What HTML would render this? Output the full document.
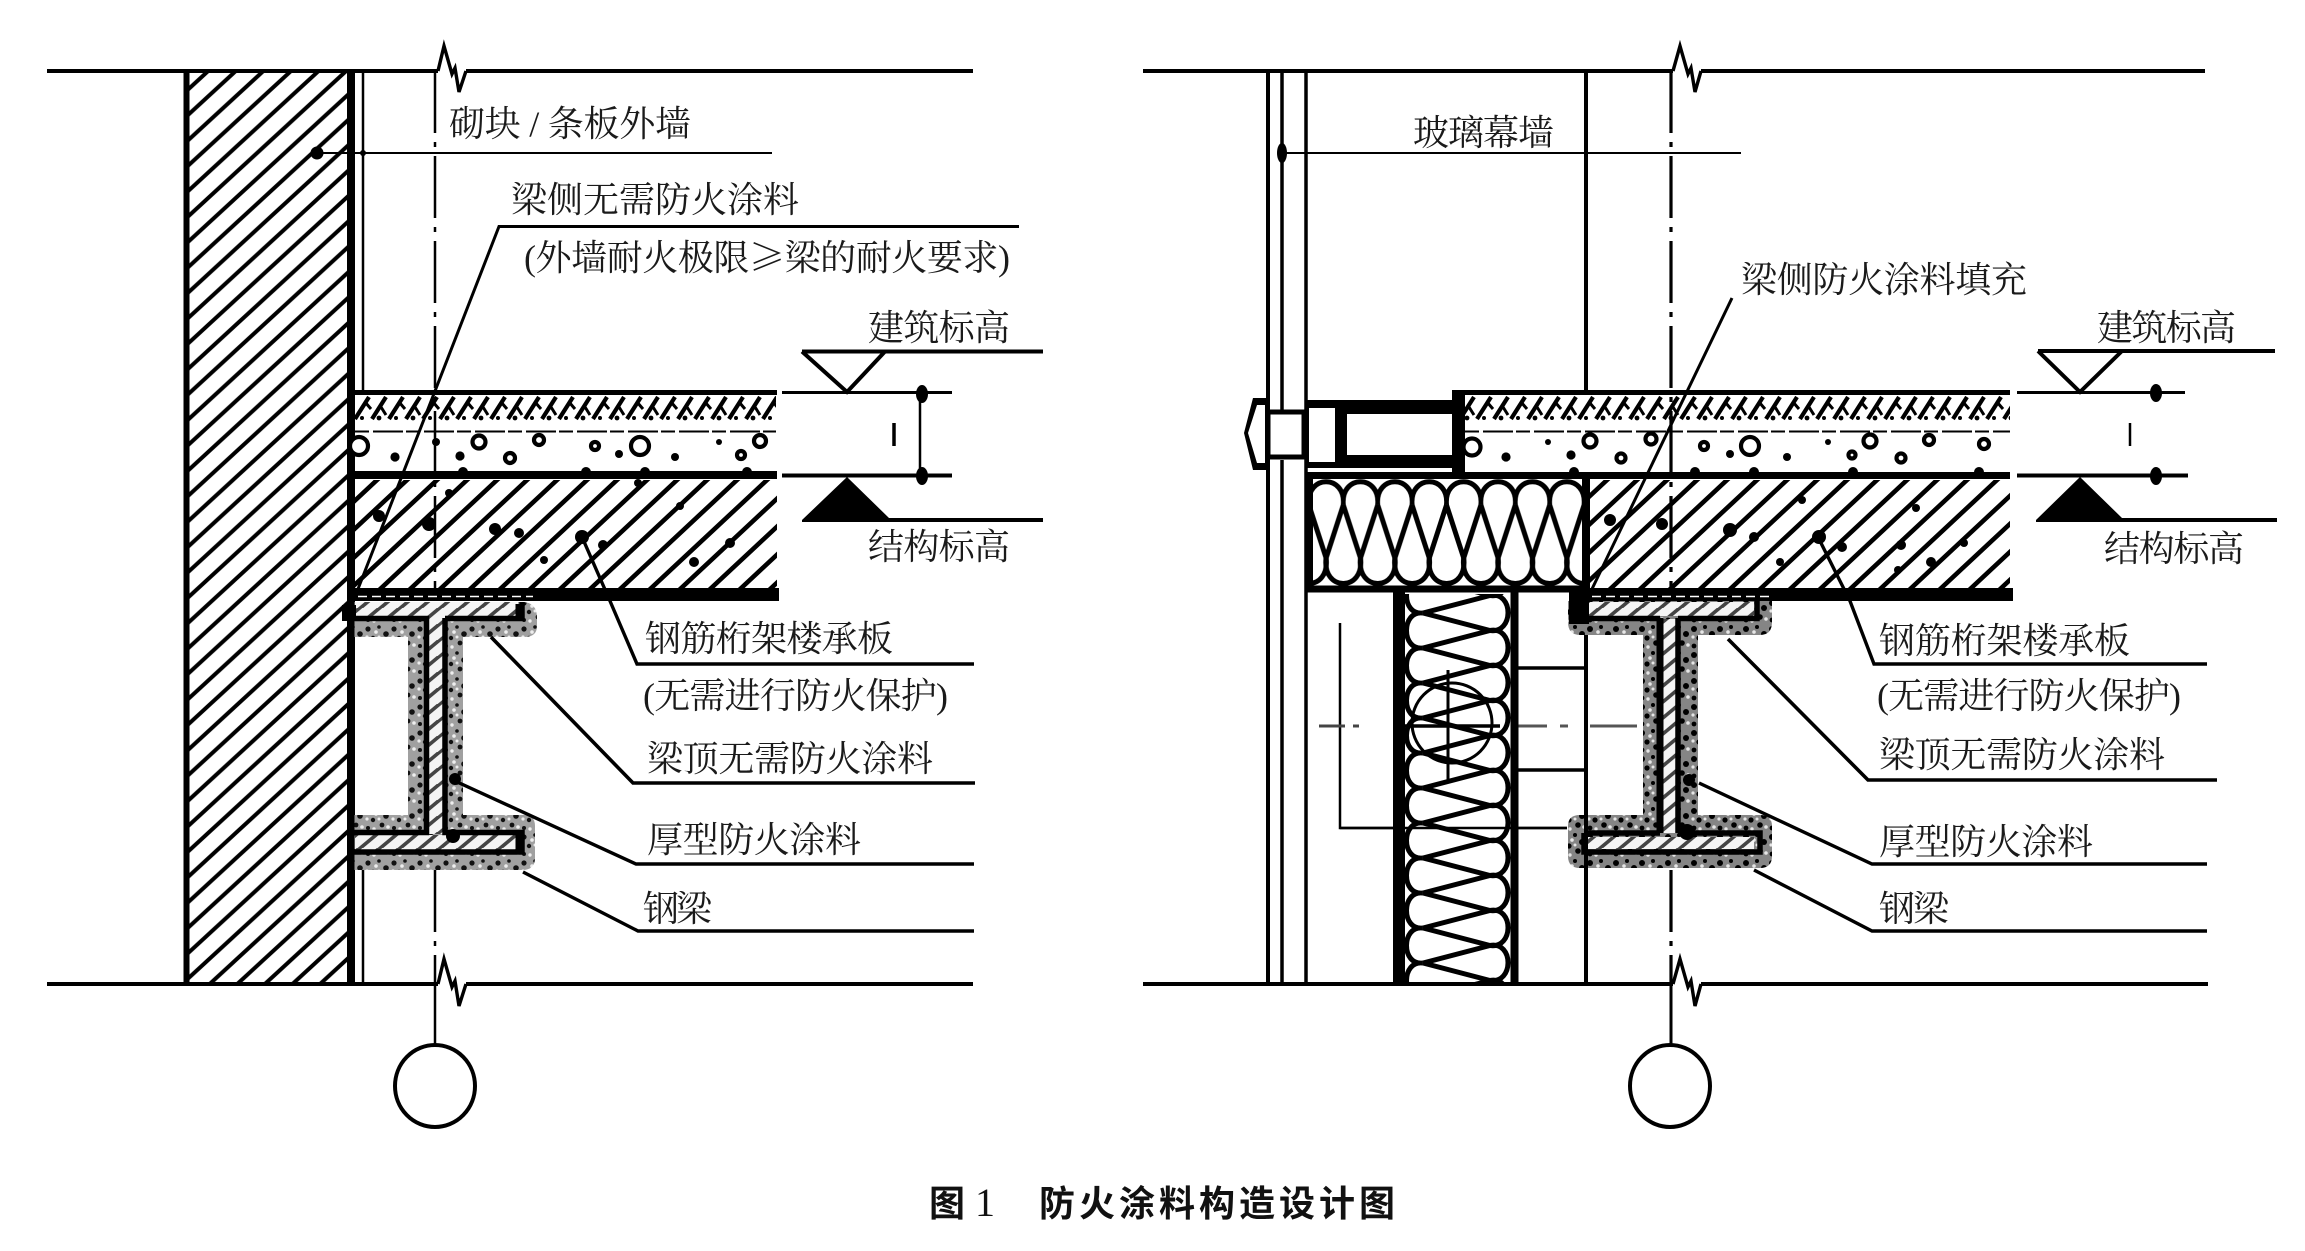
<!DOCTYPE html>
<html><head><meta charset="utf-8"><style>
html,body{margin:0;padding:0;background:#fff;width:2305px;height:1251px;overflow:hidden}
svg{display:block}
.t{font-family:"Liberation Serif","Noto Serif CJK SC",serif;font-size:36px;fill:#1a1a1a}
.c{font-family:"Liberation Sans","Noto Sans CJK SC",sans-serif;font-size:36px;font-weight:700;fill:#111}
</style></head><body>
<svg width="2305" height="1251" viewBox="0 0 2305 1251" xmlns="http://www.w3.org/2000/svg">
<defs>
<pattern id="wall" patternUnits="userSpaceOnUse" x="178.4" y="73" width="27.6" height="25.4">
<g stroke="#000" stroke-width="4"><line x1="-5" y1="30" x2="32.6" y2="-4.6"/><line x1="-32.6" y1="30" x2="5" y2="-4.6"/><line x1="22.6" y1="30" x2="60.2" y2="-4.6"/></g></pattern>
<pattern id="slab" patternUnits="userSpaceOnUse" x="437" y="480" width="30" height="28">
<g stroke="#000" stroke-width="4.6"><line x1="-5" y1="32.67" x2="35" y2="-4.67"/><line x1="-35" y1="32.67" x2="5" y2="-4.67"/><line x1="25" y1="32.67" x2="65" y2="-4.67"/></g></pattern>
<pattern id="top" patternUnits="userSpaceOnUse" x="356" y="395" width="34" height="26">
<rect width="34" height="26" fill="#fff"/>
<g stroke="#000" fill="none" stroke-width="4.2">
<path d="M-1 24L13 2M16 24L30 2M33 24L47 2M-18 24L-4 2"/>
</g>
<g stroke="#000" fill="none" stroke-width="3">
<path d="M9 7L15 14M25 12L30 20"/>
</g>
<circle cx="6" cy="23" r="2"/><circle cx="23" cy="23" r="2.4"/></pattern>
<pattern id="coat" patternUnits="userSpaceOnUse" width="26" height="26">
<rect width="26" height="26" fill="#a0a0a0"/>
<g fill="#111"><circle cx="4" cy="5" r="2.6"/><circle cx="15" cy="3" r="1.8"/><circle cx="22" cy="10" r="2.8"/><circle cx="9" cy="14" r="2.2"/><circle cx="18" cy="19" r="2.4"/><circle cx="4" cy="22" r="2"/></g>
<g fill="#eee"><circle cx="12" cy="8" r="1.8"/><circle cx="3" cy="13" r="1.6"/><circle cx="15" cy="13" r="1.5"/><circle cx="24" cy="21" r="1.8"/><circle cx="10" cy="23" r="1.7"/></g></pattern>
<pattern id="coat2" patternUnits="userSpaceOnUse" width="26" height="26">
<rect width="26" height="26" fill="#858585"/>
<g fill="#000"><circle cx="4" cy="5" r="3"/><circle cx="15" cy="3" r="2"/><circle cx="22" cy="10" r="3"/><circle cx="9" cy="14" r="2.6"/><circle cx="18" cy="19" r="2.8"/><circle cx="4" cy="22" r="2.4"/></g>
<g fill="#e6e6e6"><circle cx="12" cy="8" r="1.8"/><circle cx="3" cy="13" r="1.6"/><circle cx="15" cy="13" r="1.5"/><circle cx="24" cy="21" r="1.8"/><circle cx="10" cy="23" r="1.7"/></g></pattern>
<pattern id="steel" patternUnits="userSpaceOnUse" width="20" height="16">
<rect width="20" height="16" fill="#f4f4f4"/>
<g stroke="#444" stroke-width="3.6"><line x1="-2" y1="18" x2="22" y2="-2"/><line x1="-22" y1="18" x2="2" y2="-2"/><line x1="18" y1="18" x2="42" y2="-2"/></g></pattern>
<g id="insT" fill="none" stroke="#000" stroke-width="5">
<path d="M0 505L17.2 558M34.4 505L17.2 558"/>
<path d="M0 505C-3 474 37.4 474 34.4 505"/>
<path d="M17.2 558C13 592 55.8 592 51.6 558"/>
<path d="M-17.2 558C-21 592 21.4 592 17.2 558"/>
</g>
<pattern id="ins1" patternUnits="userSpaceOnUse" x="1308.9" y="0" width="34.4" height="1251"><use href="#insT"/></pattern>
<g id="insV" fill="none" stroke="#000" stroke-width="5">
<path d="M1423 0L1490 17.5M1423 35L1490 17.5"/>
<path d="M1423 0C1401 -3 1401 38 1423 35"/>
<path d="M1490 17.5C1514 13 1514 56 1490 52.5"/>
<path d="M1490 -17.5C1514 -22 1514 21 1490 17.5"/>
</g>
<pattern id="ins2" patternUnits="userSpaceOnUse" x="0" y="613" width="2305" height="35"><use href="#insV"/></pattern>
</defs>
<rect width="2305" height="1251" fill="#fff"/>

<!-- ============ LEFT ============ -->
<rect x="186" y="71" width="165" height="913" fill="url(#wall)"/>
<g stroke="#000" fill="none">
<path d="M186.5 71V984" stroke-width="6"/>
<path d="M351 71V984" stroke-width="8"/>
<path d="M363 71V392M363 870V984" stroke-width="2.5"/>
</g>
<!-- slab -->
<rect x="355" y="395" width="421" height="26" fill="url(#top)"/>
<rect x="355" y="480" width="422" height="108" fill="url(#slab)"/>
<g stroke="#000" fill="none">
<path d="M355 392.5H777" stroke-width="5"/>
<path d="M782 392.5H952" stroke-width="3"/>
<path d="M355 431.5H776" stroke-width="2" stroke-dasharray="14 4 30 3"/>
<path d="M355 475H777" stroke-width="8"/>
<path d="M782 475.5H952" stroke-width="4"/>
</g>
<g fill="#fff" stroke="#000" stroke-width="4.2">
<circle cx="359" cy="446" r="9"/><circle cx="479" cy="442" r="6.5"/><circle cx="539" cy="440" r="5"/><circle cx="510" cy="458" r="5"/><circle cx="595" cy="446" r="4"/><circle cx="640" cy="446" r="9"/><circle cx="741" cy="455" r="4"/><circle cx="760" cy="441" r="6"/>
</g>
<g fill="#000">
<circle cx="395" cy="457" r="4.6"/><circle cx="460" cy="456" r="4.6"/><circle cx="436" cy="442" r="4"/><circle cx="619" cy="454" r="4"/><circle cx="675" cy="457" r="4"/><circle cx="719" cy="442" r="3"/>
<circle cx="463" cy="472" r="5"/><circle cx="586" cy="472" r="5"/><circle cx="645" cy="472" r="5"/><circle cx="747" cy="472" r="5"/>
<circle cx="379" cy="516" r="6"/><circle cx="429" cy="524" r="7"/><circle cx="495" cy="529" r="6"/><circle cx="582" cy="537" r="7"/><circle cx="519" cy="533" r="5"/><circle cx="544" cy="560" r="4"/><circle cx="603" cy="545" r="5"/><circle cx="694" cy="562" r="5"/><circle cx="730" cy="543" r="5"/><circle cx="680" cy="506" r="4"/><circle cx="449" cy="493" r="4"/><circle cx="638" cy="483" r="4"/>
</g>
<!-- centre line -->
<path d="M435 71V600M435 870V984" stroke="#000" stroke-width="2.5" stroke-dasharray="62 9 5 9" fill="none"/>
<path d="M435 984V1044" stroke="#000" stroke-width="2.5"/>
<ellipse cx="435" cy="1086" rx="40" ry="41" fill="#fff" stroke="#000" stroke-width="4"/>
<!-- bar -->
<rect x="355" y="588" width="424" height="13" fill="#000"/>
<path d="M358 596.5H533" stroke="#fff" stroke-width="1.6" stroke-dasharray="9 5"/>
<!-- beam left -->
<path d="M353 602H522Q537 602 537 618V626Q537 637 524 637H463V815H524Q535 815 535 826V858Q535 870 522 870H353V815H408V637H353Z" fill="url(#coat)"/>
<rect x="355" y="602" width="163" height="16" fill="url(#steel)"/>
<rect x="355" y="835" width="163" height="16" fill="url(#steel)"/>
<rect x="428" y="618" width="15" height="216" fill="url(#steel)"/>
<g stroke="#000" fill="none" stroke-width="5.5">
<path d="M353 618.5H426.5V832.5H353"/>
<path d="M445 618.5H522V602"/>
<path d="M520 604V620" stroke-width="9"/>
<path d="M445 618V832.5H522V852H353"/>
<path d="M520 832V852" stroke-width="9"/>
</g>
<circle cx="455" cy="779" r="6" fill="#000"/><circle cx="453" cy="836" r="7" fill="#000"/>
<rect x="342" y="605" width="14" height="16" fill="#000"/>
<path d="M351 585V880" stroke="#000" stroke-width="7"/>
<!-- left leaders -->
<g stroke="#000" fill="none">
<path d="M772 153H317" stroke-width="2"/>
<path d="M1019 226.5H499L358 589" stroke-width="3"/>
<path d="M582 537L610 601L637 664H974" stroke-width="3.4"/>
<path d="M491 637L633 783H975" stroke-width="3.6"/>
<path d="M455 781L636 864H974" stroke-width="3.4"/>
<path d="M523 872L638 931H974" stroke-width="3.4"/>
<path d="M802 351.5H1043M802 351.5L847 392L885 351.5" stroke-width="4"/>
<path d="M920 392V475" stroke-width="2.5"/>
<path d="M894 423V446" stroke-width="3.5"/>
</g>
<circle cx="317" cy="153" r="6.5"/><circle cx="363" cy="153" r="3"/>
<ellipse cx="922" cy="394" rx="6" ry="9"/><ellipse cx="922" cy="476" rx="6" ry="9"/>
<path d="M802 520L847 477L889 518H1043V522H802Z"/>
<!-- top / bottom lines -->
<g stroke="#000" fill="none" stroke-width="4">
<path d="M47 71H438M466 71H973"/>
<path d="M47 984H438M466 984H973"/>
<path d="M438 71L444 46L452 74L455 68L459 92L466 71" stroke-width="3.4"/>
<path d="M438 984L444 959L452 987L455 981L459 1006L466 984" stroke-width="3.4"/>
</g>
<!-- left text -->
<text class="t" x="449" y="136" textLength="242">砌块 / 条板外墙</text>
<text class="t" x="511" y="212" textLength="288">梁侧无需防火涂料</text>
<text class="t" x="524" y="270" textLength="486">(外墙耐火极限<tspan font-family="Noto Serif CJK SC">≥</tspan>梁的耐火要求)</text>
<text class="t" x="868" y="340" textLength="142">建筑标高</text>
<text class="t" x="868" y="559" textLength="142">结构标高</text>
<text class="t" x="645" y="651" textLength="248">钢筋桁架楼承板</text>
<text class="t" x="643" y="708" textLength="305">(无需进行防火保护)</text>
<text class="t" x="647" y="771" textLength="286">梁顶无需防火涂料</text>
<text class="t" x="647" y="852" textLength="214">厚型防火涂料</text>
<text class="t" x="643" y="921" textLength="69">钢梁</text>

<!-- ============ RIGHT ============ -->
<g stroke="#000" fill="none">
<path d="M1268 71V984" stroke-width="4"/>
<path d="M1282 71V410M1282 460V984" stroke-width="3.5"/>
<path d="M1306 71V984" stroke-width="3.5"/>
<path d="M1586 71V392M1586 590V984" stroke-width="4"/>
</g>
<!-- dim lines -->
<g stroke="#000" fill="none">
<path d="M1340 623V828H1567" stroke-width="2.5"/>
<path d="M1319 726H1345M1353 726H1359" stroke="#444" stroke-width="3"/>
<path d="M1518 726H1547M1560 726H1568M1590 726H1637" stroke="#555" stroke-width="3"/>
</g>
<!-- slab -->
<rect x="1465" y="395" width="545" height="26" fill="url(#top)"/>
<rect x="1588" y="480" width="422" height="108" fill="url(#slab)"/>
<!-- insulation upper -->
<rect x="1310" y="478" width="276" height="110" fill="#fff"/>
<rect x="1310" y="478" width="276" height="110" fill="url(#ins1)"/>
<g stroke="#000" fill="none">
<path d="M1309.5 476V592" stroke-width="7"/>
<path d="M1586 476V600" stroke-width="8"/>
<path d="M1306 589H1590" stroke-width="7"/>
<path d="M1459 392.5H2010" stroke-width="5"/>
<path d="M2017 392.5H2185" stroke-width="3"/>
<path d="M1465 431.5H2010" stroke-width="2" stroke-dasharray="14 4 30 3"/>
<path d="M1306 475.5H2010" stroke-width="7"/>
<path d="M2017 475.5H2188" stroke-width="4"/>
</g>
<g fill="#fff" stroke="#000" stroke-width="4.2">
<circle cx="1472" cy="447" r="8.5"/><circle cx="1590" cy="441" r="6.5"/><circle cx="1651" cy="439" r="5.5"/><circle cx="1704" cy="446" r="4"/><circle cx="1750" cy="446" r="9"/><circle cx="1870" cy="441" r="6.5"/><circle cx="1929" cy="440" r="5"/><circle cx="1984" cy="444" r="5"/><circle cx="1621" cy="458" r="4.5"/><circle cx="1901" cy="458" r="4.5"/><circle cx="1852" cy="455" r="3.5"/>
</g>
<g fill="#000">
<circle cx="1506" cy="457" r="4.6"/><circle cx="1571" cy="455" r="4.6"/><circle cx="1787" cy="457" r="4"/><circle cx="1828" cy="442" r="3"/><circle cx="1730" cy="454" r="4"/><circle cx="1548" cy="442" r="3"/>
<circle cx="1574" cy="472" r="5"/><circle cx="1695" cy="472" r="5"/><circle cx="1754" cy="472" r="5"/><circle cx="1853" cy="472" r="5"/><circle cx="1979" cy="472" r="5"/>
<circle cx="1610" cy="520" r="6"/><circle cx="1662" cy="524" r="6"/><circle cx="1730" cy="530" r="7"/><circle cx="1754" cy="537" r="5"/><circle cx="1819" cy="537" r="7"/><circle cx="1842" cy="547" r="5"/><circle cx="1780" cy="562" r="4"/><circle cx="1901" cy="545" r="5"/><circle cx="1898" cy="570" r="4"/><circle cx="1802" cy="500" r="4"/><circle cx="1931" cy="562" r="5"/><circle cx="1964" cy="543" r="4"/><circle cx="1916" cy="508" r="4"/>
</g>
<!-- box -->
<rect x="1307" y="400" width="158" height="68" fill="#000"/>
<rect x="1309" y="408" width="26" height="54" fill="#fff"/>
<rect x="1347" y="414" width="105" height="41" fill="#fff"/>
<rect x="1452" y="390" width="13" height="85" fill="#000"/>
<!-- bolt -->
<path d="M1268 412H1304V457H1268Z" fill="#fff" stroke="#000" stroke-width="5"/>
<path d="M1253 398H1269V470H1253L1244 433Z M1257 405L1248 433L1257 463H1265V405Z" fill="#000" fill-rule="evenodd"/>
<!-- vertical insulation -->
<rect x="1405" y="594" width="106" height="390" fill="#fff"/>
<rect x="1405" y="594" width="106" height="390" fill="url(#ins2)"/>
<g stroke="#000" fill="none">
<path d="M1399 590V984" stroke-width="12"/>
<path d="M1514.5 590V984" stroke-width="8"/>
<path d="M1518 668H1586M1518 770H1586" stroke-width="3.4"/>
<path d="M1448 670V782" stroke-width="3"/>
<circle cx="1452" cy="723" r="40" stroke-width="3"/>
<path d="M1393 726H1500" stroke-width="3.5"/>
<path d="M1340 828H1567" stroke-width="2.5"/>
</g>
<!-- centre line -->
<path d="M1671 71V600M1671 870V984" stroke="#000" stroke-width="3.2" stroke-dasharray="62 9 5 9" fill="none"/>
<path d="M1671 984V1044" stroke="#000" stroke-width="3"/>
<ellipse cx="1670" cy="1086" rx="40" ry="41" fill="#fff" stroke="#000" stroke-width="4"/>
<!-- bar -->
<rect x="1588" y="588" width="425" height="13" fill="#000"/>
<path d="M1592 596.5H1772" stroke="#fff" stroke-width="1.6" stroke-dasharray="9 5"/>
<!-- beam right -->
<path d="M1580 601H1772V622Q1772 635 1760 635H1698V815H1760Q1772 815 1772 826V856Q1772 868 1760 868H1580Q1568 868 1568 856V826Q1568 815 1580 815H1643V635H1580Q1568 635 1568 622V601Z" fill="url(#coat2)"/>
<rect x="1588" y="602" width="166" height="14" fill="url(#steel)"/>
<rect x="1588" y="837" width="166" height="12" fill="url(#steel)"/>
<rect x="1663" y="619" width="14" height="214" fill="url(#steel)"/>
<g stroke="#000" fill="none" stroke-width="5.5">
<path d="M1570 618.5H1660"/>
<path d="M1660 618V833" stroke-width="7"/>
<path d="M1678 618V833"/>
<path d="M1678 618.5H1757V600"/>
<path d="M1584 833H1660M1678 833H1760V852H1584V833"/>
</g>
<rect x="1569" y="590" width="20" height="34" fill="#000"/>
<circle cx="1689" cy="780" r="6"/><circle cx="1687" cy="832" r="8"/>
<path d="M1586 635V984" stroke="#000" stroke-width="4"/>
<!-- right leaders -->
<g stroke="#000" fill="none">
<path d="M1741 153H1281" stroke-width="2"/>
<path d="M1732 298L1592 589" stroke-width="3"/>
<path d="M1817 535L1850 601L1874 664H2207" stroke-width="3.4"/>
<path d="M1728 639L1868 780H2217" stroke-width="3.6"/>
<path d="M1699 783L1872 864H2207" stroke-width="3.4"/>
<path d="M1754 870L1872 931H2207" stroke-width="3.4"/>
<path d="M2038 351H2275M2038 351L2080 392L2122 351" stroke-width="4"/>
<path d="M2130 423V446" stroke-width="2.5"/>
</g>
<ellipse cx="1282" cy="153" rx="5" ry="10"/>
<ellipse cx="2156" cy="393" rx="6" ry="9"/><ellipse cx="2156" cy="476" rx="6" ry="9"/>
<path d="M2036 520L2080 477L2122 518H2277V522H2036Z"/>
<!-- top / bottom lines -->
<g stroke="#000" fill="none" stroke-width="4">
<path d="M1143 71H1673M1701 71H2205"/>
<path d="M1143 984H1673M1701 984H2208"/>
<path d="M1673 71L1680 46L1688 74L1691 68L1695 92L1701 71" stroke-width="3.4"/>
<path d="M1673 984L1680 959L1688 987L1691 981L1695 1006L1701 984" stroke-width="3.4"/>
</g>
<!-- right text -->
<text class="t" x="1413" y="145" textLength="141">玻璃幕墙</text>
<text class="t" x="1741" y="292" textLength="286">梁侧防火涂料填充</text>
<text class="t" x="2097" y="340" textLength="139">建筑标高</text>
<text class="t" x="2104" y="561" textLength="140">结构标高</text>
<text class="t" x="1879" y="653" textLength="251">钢筋桁架楼承板</text>
<text class="t" x="1877" y="708" textLength="304">(无需进行防火保护)</text>
<text class="t" x="1879" y="767" textLength="286">梁顶无需防火涂料</text>
<text class="t" x="1879" y="854" textLength="214">厚型防火涂料</text>
<text class="t" x="1879" y="921" textLength="70">钢梁</text>

<!-- caption -->
<text class="c" x="929" y="1216">图</text>
<text x="975" y="1216" font-family="Liberation Serif,serif" font-size="40" fill="#111">1</text>
<text class="c" x="1039" y="1216" textLength="356">防火涂料构造设计图</text>
</svg>
</body></html>
